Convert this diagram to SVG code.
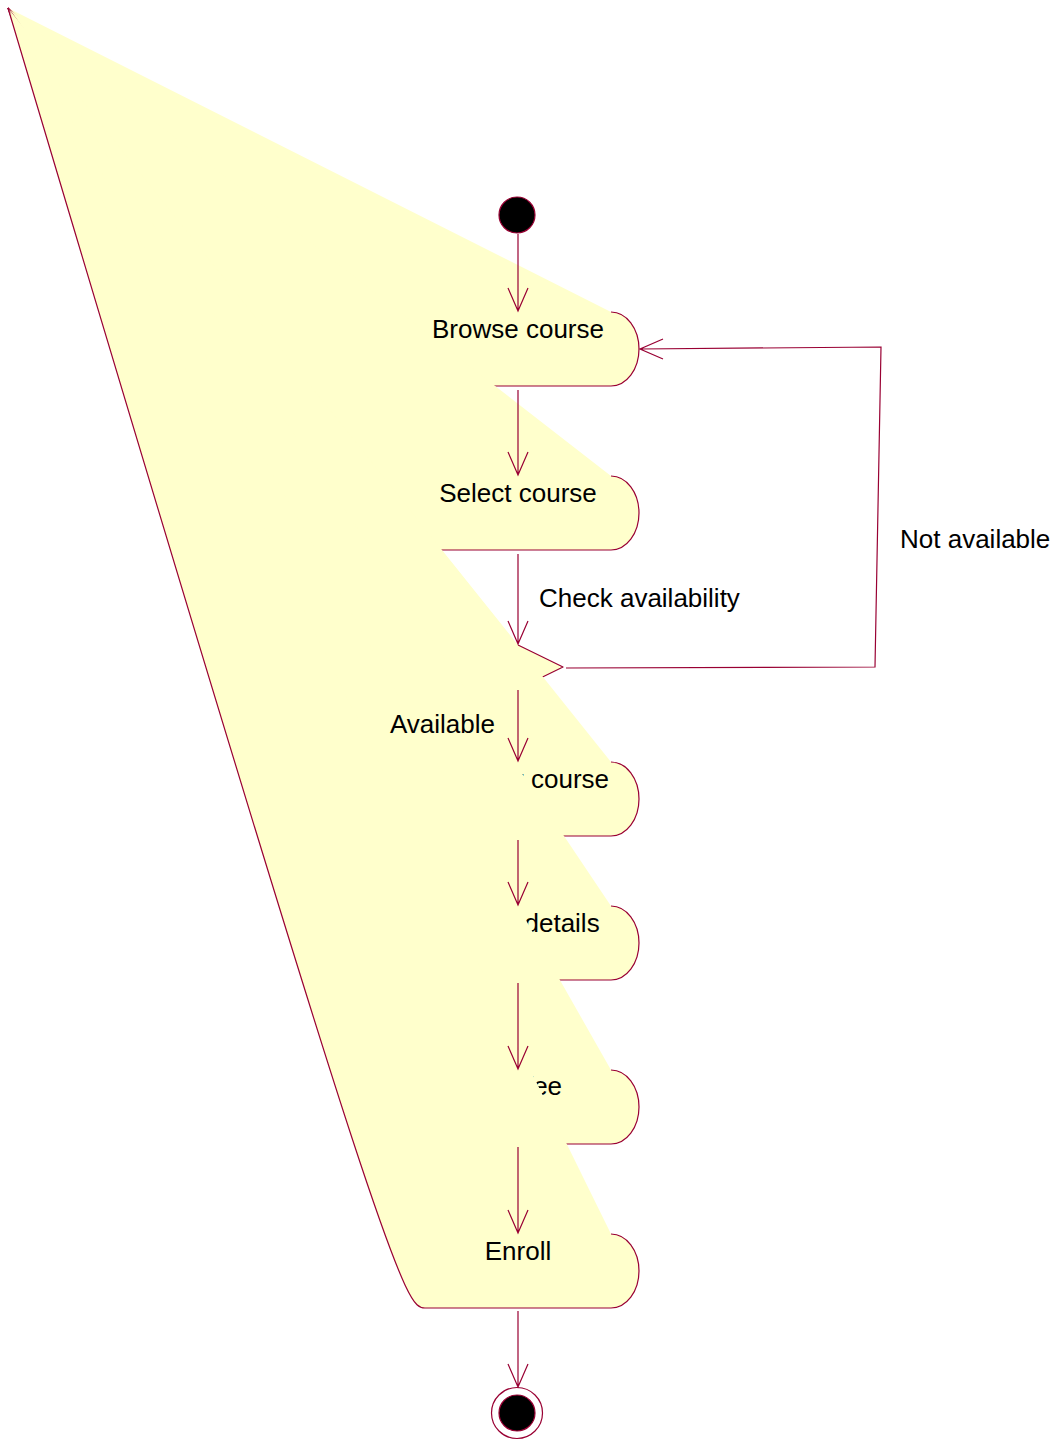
<svg xmlns="http://www.w3.org/2000/svg" width="1054" height="1444" viewBox="0 0 1054 1444">
<style>
.act{fill:#FFFFCC;stroke:#990033;stroke-width:1.2;stroke-linejoin:round}
.txt{font-family:"Liberation Sans",Arial,sans-serif;font-size:26px;fill:#000}
.ln{fill:none;stroke:#990033;stroke-width:1.2}
.dot{fill:#000;stroke:#990033;stroke-width:1.2}
</style>
<rect x="0" y="0" width="1054" height="1444" fill="#fff"/>
<g id="start"><circle class="dot" cx="517" cy="215" r="18"/></g>
<g id="browse-course">
<path class="act" d="M611,312 A28,37 0 0 1 611,386 L425,386 C405,386 390,368 8,8"/>
<text class="txt" x="518" y="338" text-anchor="middle">Browse course</text>
</g>
<g id="select-course">
<path class="act" d="M611,476 A28,37 0 0 1 611,550 L425,550 C405,550 390,532 8,8"/>
<text class="txt" x="518" y="502" text-anchor="middle">Select course</text>
</g>
<g id="decision">
<path class="act" d="M518,645 L563,667 L518,689 L473,667 L8,8"/>
</g>
<g id="register-course">
<path class="act" d="M611,762 A28,37 0 0 1 611,836 L425,836 C405,836 390,818 8,8"/>
<text class="txt" x="518" y="788" text-anchor="middle">Register course</text>
</g>
<g id="submit-details">
<path class="act" d="M611,906 A28,37 0 0 1 611,980 L425,980 C405,980 390,962 8,8"/>
<text class="txt" x="518" y="932" text-anchor="middle">Submit details</text>
</g>
<g id="pay-fee">
<path class="act" d="M611,1070 A28,37 0 0 1 611,1144 L425,1144 C405,1144 390,1126 8,8"/>
<text class="txt" x="518" y="1095" text-anchor="middle">Pay fee</text>
</g>
<g id="enroll">
<path class="act" d="M611,1234 A28,37 0 0 1 611,1308 L425,1308 C405,1308 390,1290 8,8"/>
<text class="txt" x="518" y="1260" text-anchor="middle">Enroll</text>
</g>
<g id="end">
<circle cx="517" cy="1413" r="25.5" fill="#fff" stroke="#990033" stroke-width="1.2"/>
<circle class="dot" cx="517" cy="1413" r="18"/>
</g>
<g id="connectors">
<path class="ln" d="M518,234 L518,311 M508,288 L518,311 L528,288"/>
<path class="ln" d="M518,390 L518,475 M508,452 L518,475 L528,452"/>
<path class="ln" d="M518,554 L518,644 M508,621 L518,644 L528,621"/>
<text class="txt" x="539" y="607">Check availability</text>
<path class="ln" d="M518,690 L518,761 M508,738 L518,761 L528,738"/>
<text class="txt" x="495" y="733" text-anchor="end">Available</text>
<path class="ln" d="M518,840 L518,905 M508,882 L518,905 L528,882"/>
<path class="ln" d="M518,983 L518,1069 M508,1046 L518,1069 L528,1046"/>
<path class="ln" d="M518,1147 L518,1233 M508,1210 L518,1233 L528,1210"/>
<path class="ln" d="M518,1311 L518,1387 M508,1364 L518,1387 L528,1364"/>
<path class="ln" d="M566,668 L875,667 L881,347 L640,349 M663,339 L640,349 L663,359"/>
<text class="txt" x="900" y="548">Not available</text>
</g>
</svg>
